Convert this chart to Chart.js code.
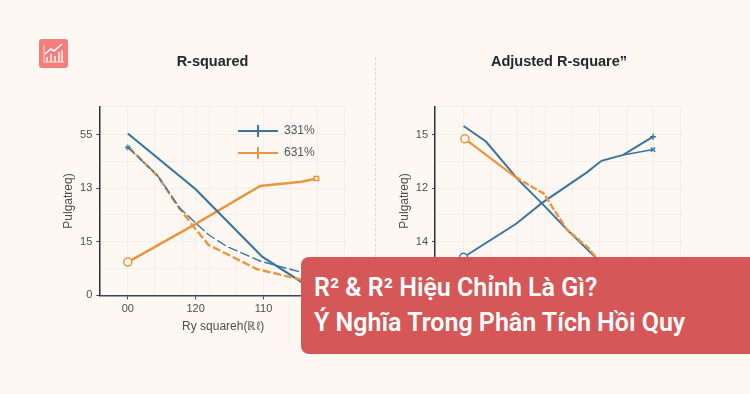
<!DOCTYPE html>
<html>
<head>
<meta charset="utf-8">
<script src="https://cdn.jsdelivr.net/npm/chart.js@4"></script>
<style>
html, body { margin: 0; padding: 0; background: #fdf8f2; }
#page { position: relative; width: 750px; height: 394px; overflow: hidden; background: #fdf8f2; }
canvas { position: absolute; top: 0; }
#canvasLeft { left: 0; }
#canvasRight { left: 375px; }
#divider { position: absolute; left: 375px; top: 57px; height: 235px; border-left: 1px dashed #d9ddc8; }
#icon { position: absolute; left: 39px; top: 39px; }
#banner {
	position: absolute; left: 301px; top: 257px; width: 449px; height: 97px;
	background: #d55757; border-radius: 8px 0 0 8px; color: #fff;
	font: 600 25px/35px Roboto, sans-serif; padding: 13px 0 0 13px; box-sizing: border-box;
}
</style>
</head>
<body>
<div id="page">
	<svg id="icon" width="29" height="29" viewBox="0 0 29 29">
		<rect width="29" height="29" rx="3" fill="#f47e7a"/>
		<path d="M5 6V23H25" fill="none" stroke="#fbd9d6" stroke-width="1"/>
		<path d="M8 23V18M12 23V15M16 23V17M20 23V13M23 23V11" fill="none" stroke="#fff" stroke-width="1.4"/>
		<path d="M6 15L12 10L15 12L23 5" fill="none" stroke="#fff" stroke-width="1.6"/>
	</svg>
	<canvas id="canvasLeft" width="375" height="394"></canvas>
	<canvas id="canvasRight" width="375" height="394"></canvas>
	<div id="divider"></div>
	<div id="banner">R² &amp; R² Hiệu Chỉnh Là Gì?<br>Ý Nghĩa Trong Phân Tích Hồi Quy</div>
</div>
<script>
var blue = '#3a74a1';
var orange = '#ea9540';

var leftTitle = 'R-squared';
var rightTitle = 'Adjusted R-square”';
var yAxisName = 'Pulgatreq)';
var xAxisName = 'Ry squareh(ℝℓ)';

// tick labels, index = position on the axis
var leftYLabels = ['0', '15', '13', '55'];
var rightYLabels = ['', '14', '12', '15'];
var leftXLabels = ['00', '120', '110'];
var rightXLabels = [];
var gridStops = [0, 0.4, 0.8, 1, 1.2, 1.6, 2, 2.4, 2.8, 3.2];
var legendLabels = ['331%', '631%'];

// R-squared panel
var leftBlueX = [0, 1.0, 1.98, 2.57, 3.0];
var leftBlueY = [3.02, 1.98, 0.72, 0.24, 0.05];
var leftBlueDashX = [0, 0.43, 0.77, 1.19, 1.46, 1.97, 2.53, 3.0];
var leftBlueDashY = [2.76, 2.25, 1.62, 1.13, 0.91, 0.63, 0.44, 0.3];
var leftOrangeDashX = [0.01, 0.45, 0.72, 0.97, 1.19, 1.46, 1.90, 2.56, 3.0];
var leftOrangeDashY = [2.77, 2.21, 1.69, 1.28, 0.94, 0.77, 0.49, 0.29, 0.15];
var leftOrangeX = [0, 0.97, 1.95, 2.56, 2.78];
var leftOrangeY = [0.62, 1.31, 2.04, 2.12, 2.18];

// Adjusted R-square panel
var rightBlueDownX = [0, 0.33, 0.81, 1.15, 1.52, 1.94, 2.3];
var rightBlueDownY = [3.16, 2.87, 2.15, 1.72, 1.23, 0.71, 0.35];
var rightOrangeX = [0.02, 0.76];
var rightOrangeY = [2.92, 2.21];
var rightOrangeDashX = [0.76, 1.0, 1.18, 1.35, 1.52, 1.84, 1.96, 2.3];
var rightOrangeDashY = [2.21, 2.03, 1.90, 1.56, 1.23, 0.88, 0.69, 0.35];
var rightBlueUpX = [0, 0.78, 1.15, 1.81, 2.03, 2.35, 2.79];
var rightBlueUpY = [0.71, 1.34, 1.72, 2.29, 2.51, 2.62, 2.96];
var rightBlueBranchX = [2.35, 2.79];
var rightBlueBranchY = [2.62, 2.72];

function series(color, xs, ys, width, dash, startMark, endMark) {
	var pts = xs.map(function(x, i) { return { x: x, y: ys[i] }; });
	var last = pts.length - 1;
	return {
		data: pts,
		borderColor: color,
		borderWidth: width,
		borderDash: dash || [],
		tension: 0,
		pointBackgroundColor: '#fdf8f2',
		pointBorderColor: color,
		pointBorderWidth: startMark === 'star' ? 1 : 1.5,
		pointRadius: function(ctx) {
			if (ctx.dataIndex === 0 && startMark) return startMark === 'star' ? 3 : 4;
			if (ctx.dataIndex === last && endMark) return 3;
			return 0;
		},
		pointStyle: function(ctx) {
			return ctx.dataIndex === 0 ? startMark : endMark;
		}
	};
}

function legendMark(color) {
	var c = document.createElement('canvas');
	c.width = 40;
	c.height = 14;
	var g = c.getContext('2d');
	g.strokeStyle = color;
	g.lineWidth = 2;
	g.beginPath();
	g.moveTo(0, 7); g.lineTo(40, 7);
	g.moveTo(20, 1); g.lineTo(20, 13);
	g.stroke();
	return c;
}

// title and legend sit in fixed spots, not the ones the layout gives them
var placeBoxes = {
	id: 'placeBoxes',
	afterLayout: function(chart) {
		var o = chart.options.plugins.placeBoxes;
		var title = chart.titleBlock;
		title.left = o.titleCenter - 187;
		title.right = o.titleCenter + 187;
		if (o.legendLeft) {
			chart.legend.left = o.legendLeft;
			chart.legend.right = o.legendLeft + 110;
			chart.legend.top = o.legendTop;
			chart.legend.bottom = o.legendTop + 70;
		}
	}
};

function makeChart(id, datasets, titleText, titleCenter, xLabels, yLabels, showXName, legendOn) {
	var isLeft = id === 'canvasLeft';
	return new Chart(document.getElementById(id), {
		type: 'line',
		data: { datasets: datasets },
		plugins: [placeBoxes],
		options: {
			responsive: false,
			animation: false,
			layout: { padding: { right: isLeft ? 28 : 67 } },
			plugins: {
				placeBoxes: { titleCenter: titleCenter, legendLeft: legendOn ? 228 : 0, legendTop: 115 },
				tooltip: { enabled: false },
				title: {
					display: true,
					text: titleText,
					color: '#23272e',
					font: { family: 'Liberation Sans', size: 14.5, weight: 'bold' },
					padding: { top: 53, bottom: 36.3 }
				},
				legend: {
					display: legendOn,
					position: 'chartArea',
					align: 'start',
					labels: {
						usePointStyle: true,
						pointStyleWidth: 40,
						padding: 10,
						color: '#4a5663',
						font: { family: 'Liberation Sans', size: 12 },
						generateLabels: function() {
							return legendLabels.map(function(t, i) {
								return {
									text: t,
									fontColor: '#4a5663',
									pointStyle: legendMark(i === 0 ? blue : orange),
									datasetIndex: i
								};
							});
						}
					}
				}
			},
			scales: {
				x: {
					type: 'linear',
					min: -0.42,
					max: 3.23,
					afterFit: function(s) { s.height = 98.7; },
					afterBuildTicks: function(s) {
						s.ticks = gridStops.map(function(v) { return { value: v }; });
					},
					border: { color: '#33485f', width: 1.5 },
					grid: {
						color: '#f3eee7',
						tickColor: function(ctx) {
							return xLabels[ctx.tick.value] ? '#33485f' : 'rgba(0,0,0,0)';
						},
						tickLength: 4
					},
					ticks: {
						autoSkip: false,
						maxRotation: 0,
						padding: 3,
						color: '#4a4f55',
						font: { family: 'Liberation Sans', size: 11 },
						callback: function(v) { return xLabels[v] || ''; }
					},
					title: {
						display: showXName,
						text: xAxisName,
						color: '#4a4f55',
						font: { family: 'Liberation Sans', size: 12 },
						padding: { top: 0, bottom: 60 }
					}
				},
				y: {
					min: 0,
					max: 3.52,
					afterFit: function(s) { s.width = isLeft ? 99.3 : 60; },
					border: { color: '#2b3138', width: 1.5 },
					grid: {
						color: '#f3eee7',
						tickColor: function(ctx) {
							return yLabels[ctx.tick.value] ? '#33485f' : 'rgba(0,0,0,0)';
						},
						tickLength: 3
					},
					ticks: {
						stepSize: 0.5,
						padding: 4,
						color: '#4a4f55',
						font: { family: 'Liberation Sans', size: 11 },
						callback: function(v) { return yLabels[v] || ''; }
					},
					title: {
						display: true,
						text: yAxisName,
						color: '#4a4f55',
						font: { family: 'Liberation Sans', size: 12 },
						padding: { top: isLeft ? 61 : 22, bottom: 0 }
					}
				}
			}
		}
	});
}

makeChart('canvasLeft', [
	series(blue, leftBlueDashX, leftBlueDashY, 1.4, [10, 3], 'star', null),
	series(orange, leftOrangeDashX, leftOrangeDashY, 2.4, [8, 3], null, null),
	series(blue, leftBlueX, leftBlueY, 2.2, null, null, null),
	series(orange, leftOrangeX, leftOrangeY, 2.4, null, 'circle', 'rect')
], leftTitle, 212.5, leftXLabels, leftYLabels, true, true);

makeChart('canvasRight', [
	series(orange, rightOrangeX, rightOrangeY, 2.2, null, 'circle', null),
	series(orange, rightOrangeDashX, rightOrangeDashY, 2.4, [7, 2], null, null),
	series(blue, rightBlueDownX, rightBlueDownY, 2, null, null, null),
	series(blue, rightBlueUpX, rightBlueUpY, 2, null, 'circle', 'cross'),
	series(blue, rightBlueBranchX, rightBlueBranchY, 1.6, null, null, 'crossRot')
], rightTitle, 184, rightXLabels, rightYLabels, false, false);
</script>
</body>
</html>
